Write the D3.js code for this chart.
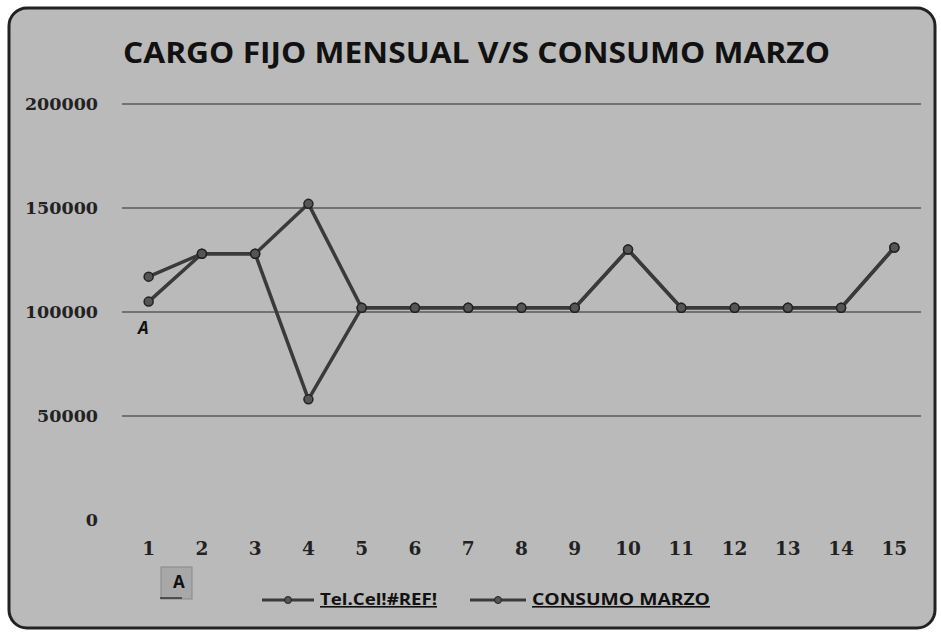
<!DOCTYPE html>
<html>
<head>
<meta charset="utf-8">
<script src="https://cdn.jsdelivr.net/npm/d3@7"></script>
<style>
  body { margin: 0; background: #fff; }
  .wrapper { width: 941px; height: 635px; }
</style>
</head>
<body>
<div class="wrapper"></div>
<script>
// chart values
const chart_title = "CARGO FIJO MENSUAL V/S CONSUMO MARZO";
const categories = [1, 2, 3, 4, 5, 6, 7, 8, 9, 10, 11, 12, 13, 14, 15];
const tel_cel = [105000, 128000, 128000, 58000, 102000, 102000, 102000, 102000, 102000, 130000, 102000, 102000, 102000, 102000, 131000];
const consumo_marzo = [117000, 128000, 128000, 152000, 102000, 102000, 102000, 102000, 102000, 130000, 102000, 102000, 102000, 102000, 131000];
const series_names = ["Tel.Cel!#REF!", "CONSUMO  MARZO"];
const y_ticks = [0, 50000, 100000, 150000, 200000];

const width = 941, height = 635;

svg = d3
  .select(".wrapper")
  .append("svg")
  .attr("width", width)
  .attr("height", height);

// chart frame
svg
  .append("rect")
  .attr("x", 9)
  .attr("y", 8)
  .attr("width", 926)
  .attr("height", 620)
  .attr("rx", 18)
  .attr("fill", "#bababa")
  .attr("stroke", "#222")
  .attr("stroke-width", 3);

svg
  .append("text")
  .attr("x", 123)
  .attr("y", 63)
  .attr("textLength", 707)
  .attr("lengthAdjust", "spacingAndGlyphs")
  .style("font-family", "'Open Sans', sans-serif")
  .style("font-size", "29px")
  .style("font-weight", "bold")
  .attr("fill", "#111")
  .text(chart_title);

let x = d3.scalePoint().domain(categories).range([122, 921]).padding(0.5);
let y = d3.scaleLinear().domain([0, 200000]).range([520, 104]);

// gridlines
svg
  .append("g")
  .selectAll("line")
  .data(y_ticks.filter((d) => d > 0))
  .enter()
  .append("line")
  .attr("x1", 122)
  .attr("x2", 921)
  .attr("y1", (d) => y(d))
  .attr("y2", (d) => y(d))
  .attr("stroke", "#2a2a2a")
  .attr("stroke-width", 1);

// y axis labels
svg
  .append("g")
  .selectAll("text")
  .data(y_ticks)
  .enter()
  .append("text")
  .attr("x", 98)
  .attr("y", (d) => y(d) + 6)
  .attr("text-anchor", "end")
  .style("font-family", "'DejaVu Serif', serif")
  .style("font-size", "17.5px")
  .style("font-weight", "bold")
  .attr("fill", "#222")
  .text((d) => d);

// x axis labels
svg
  .append("g")
  .selectAll("text")
  .data(categories)
  .enter()
  .append("text")
  .attr("x", (d) => x(d))
  .attr("y", 555)
  .attr("text-anchor", "middle")
  .style("font-family", "'DejaVu Serif', serif")
  .style("font-size", "18.5px")
  .style("font-weight", "bold")
  .attr("fill", "#222")
  .text((d) => d);

// lines
let line = d3
  .line()
  .x((d, i) => x(categories[i]))
  .y((d) => y(d));

[tel_cel, consumo_marzo].map((s) => {
  let g = svg.append("g");
  g.append("path")
    .attr("d", line(s))
    .attr("fill", "none")
    .attr("stroke", "#3a3a3a")
    .attr("stroke-width", 3.5)
    .attr("stroke-linejoin", "round");
  g.selectAll("circle")
    .data(s)
    .enter()
    .append("circle")
    .attr("cx", (d, i) => x(categories[i]))
    .attr("cy", (d) => y(d))
    .attr("r", 4.5)
    .attr("fill", "#555")
    .attr("stroke", "#222")
    .attr("stroke-width", 1.5);
});

// stray annotation marks from the scan
svg
  .append("text")
  .attr("x", 138)
  .attr("y", 334)
  .style("font-family", "'Open Sans', sans-serif")
  .style("font-size", "17px")
  .style("font-weight", "bold")
  .style("font-style", "italic")
  .attr("fill", "#111")
  .text("A");

svg
  .append("rect")
  .attr("x", 161)
  .attr("y", 567)
  .attr("width", 31)
  .attr("height", 32)
  .attr("fill", "#a8a8a8")
  .attr("stroke", "#888");
svg
  .append("line")
  .attr("x1", 160)
  .attr("x2", 182)
  .attr("y1", 598)
  .attr("y2", 598)
  .attr("stroke", "#333")
  .attr("stroke-width", 1.5);
svg
  .append("text")
  .attr("x", 173)
  .attr("y", 588)
  .style("font-family", "'Open Sans', sans-serif")
  .style("font-size", "17px")
  .style("font-weight", "bold")
  .attr("fill", "#111")
  .text("A");

// legend
let legend_items = [
  { name: series_names[0], x1: 262, x2: 314, tx: 320, tlen: 117 },
  { name: series_names[1], x1: 470, x2: 526, tx: 532, tlen: 178 },
];

let legend = svg
  .append("g")
  .selectAll("g")
  .data(legend_items)
  .enter()
  .append("g");

legend
  .append("line")
  .attr("x1", (d) => d.x1)
  .attr("x2", (d) => d.x2)
  .attr("y1", 600)
  .attr("y2", 600)
  .attr("stroke", "#3a3a3a")
  .attr("stroke-width", 3);

legend
  .append("circle")
  .attr("cx", (d) => (d.x1 + d.x2) / 2)
  .attr("cy", 600)
  .attr("r", 3.5)
  .attr("fill", "#555")
  .attr("stroke", "#222");

legend
  .append("text")
  .attr("x", (d) => d.tx)
  .attr("y", 605)
  .attr("textLength", (d) => d.tlen)
  .attr("lengthAdjust", "spacingAndGlyphs")
  .style("font-family", "'Open Sans', sans-serif")
  .style("font-size", "16px")
  .style("font-weight", "bold")
  .style("text-decoration", "underline")
  .attr("fill", "#111")
  .text((d) => d.name);
</script>
</body>
</html>
